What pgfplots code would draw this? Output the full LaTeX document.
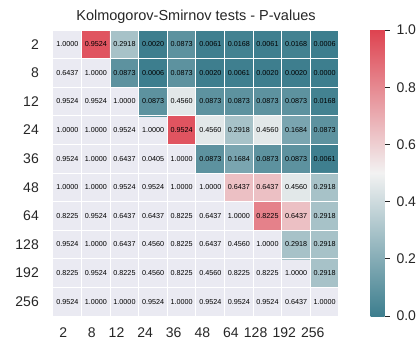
\documentclass[border=0pt]{standalone}
\usepackage{fontspec}
\setmainfont{Liberation Sans}
\usepackage{pgfplots}
\usepackage{pgfplotstable}
\pgfplotsset{compat=1.18}
\pgfplotsset{/pgf/number format/assume math mode=true}

\definecolor{bgcol}{RGB}{234,234,242}
\definecolor{txt}{RGB}{38,38,38}
\pgfplotsset{colormap={kscm}{rgb255=(61,126,142) rgb255=(242,242,242) rgb255=(222,67,80)}}

% x = column, y = row, v = p-value, c = colour value (nan = masked)
\pgfplotstableread{
x y v c
0 0 1.0000 nan
1 0 0.9524 0.9524
2 0 0.2918 0.2918
3 0 0.0020 0.0020
4 0 0.0873 0.0873
5 0 0.0061 0.0061
6 0 0.0168 0.0168
7 0 0.0061 0.0061
8 0 0.0168 0.0168
9 0 0.0006 0.0006
0 1 0.6437 nan
1 1 1.0000 nan
2 1 0.0873 0.0873
3 1 0.0006 0.0006
4 1 0.0873 0.0873
5 1 0.0020 0.0020
6 1 0.0061 0.0061
7 1 0.0020 0.0020
8 1 0.0020 0.0020
9 1 0.0000 0.0000
0 2 0.9524 nan
1 2 0.9524 nan
2 2 1.0000 nan
3 2 0.0873 0.0873
4 2 0.4560 0.4560
5 2 0.0873 0.0873
6 2 0.0873 0.0873
7 2 0.0873 0.0873
8 2 0.0873 0.0873
9 2 0.0168 0.0168
0 3 1.0000 nan
1 3 1.0000 nan
2 3 0.9524 nan
3 3 1.0000 nan
4 3 0.9524 0.9524
5 3 0.4560 0.4560
6 3 0.2918 0.2918
7 3 0.4560 0.4560
8 3 0.1684 0.1684
9 3 0.0873 0.0873
0 4 0.9524 nan
1 4 1.0000 nan
2 4 0.6437 nan
3 4 0.0405 nan
4 4 1.0000 nan
5 4 0.0873 0.0873
6 4 0.1684 0.1684
7 4 0.0873 0.0873
8 4 0.0873 0.0873
9 4 0.0061 0.0061
0 5 1.0000 nan
1 5 1.0000 nan
2 5 0.9524 nan
3 5 0.9524 nan
4 5 1.0000 nan
5 5 1.0000 nan
6 5 0.6437 0.6437
7 5 0.6437 0.6437
8 5 0.4560 0.4560
9 5 0.2918 0.2918
0 6 0.8225 nan
1 6 0.9524 nan
2 6 0.6437 nan
3 6 0.6437 nan
4 6 0.8225 nan
5 6 0.6437 nan
6 6 1.0000 nan
7 6 0.8225 0.8225
8 6 0.6437 0.6437
9 6 0.2918 0.2918
0 7 0.9524 nan
1 7 1.0000 nan
2 7 0.6437 nan
3 7 0.4560 nan
4 7 0.8225 nan
5 7 0.6437 nan
6 7 0.4560 nan
7 7 1.0000 nan
8 7 0.2918 0.2918
9 7 0.2918 0.2918
0 8 0.8225 nan
1 8 0.9524 nan
2 8 0.8225 nan
3 8 0.4560 nan
4 8 0.8225 nan
5 8 0.4560 nan
6 8 0.8225 nan
7 8 0.8225 nan
8 8 1.0000 nan
9 8 0.2918 0.2918
0 9 0.9524 nan
1 9 1.0000 nan
2 9 1.0000 nan
3 9 0.9524 nan
4 9 1.0000 nan
5 9 0.9524 nan
6 9 0.9524 nan
7 9 0.9524 nan
8 9 0.6437 nan
9 9 1.0000 nan
}\hmdata

\begin{document}
\begin{tikzpicture}
\begin{axis}[
    name=hm,
    scale only axis,
    width=286pt, height=286pt,
    xmin=-0.5, xmax=9.5, ymin=-0.5, ymax=9.5,
    y dir=reverse,
    enlargelimits=false,
    axis background/.style={fill=bgcol},
    axis line style={draw=none},
    axis on top,
    xtick={0,...,9}, ytick={0,...,9},
    xticklabels={2,8,12,24,36,48,64,128,192,256},
    yticklabels={2,8,12,24,36,48,64,128,192,256},
    major tick length=0pt, minor tick length=0pt,
    minor xtick={-0.5,0.5,...,9.5},
    minor ytick={-0.5,0.5,...,9.5},
    minor grid style={white, line width=1pt},
    grid=minor,
    tick label style={font=\fontsize{14}{16}\selectfont, text=txt},
    xticklabel style={anchor=north east, inner xsep=0pt, yshift=-8.3pt},
    yticklabel style={anchor=east, inner xsep=0pt, xshift=-14pt},
    title={Kolmogorov-Smirnov tests - P-values},
    title style={font=\fontsize{14.5}{17}\selectfont, text=txt, at={(0.5,1)}, anchor=base, yshift=3.5pt},
    colormap name=kscm,
    point meta min=0, point meta max=1,
    colorbar,
    colorbar style={
        at={(parent axis.north east)}, anchor=north west, xshift=23pt,
        scale only axis, width=14pt, height=286pt,
        axis line style={draw=none},
        ytick={0,0.2,0.4,0.6,0.8,1},
        ytick pos=right, tick align=outside,
        major tick length=5pt,
        tick style={color=txt, line width=0.8pt},
        yticklabel style={font=\fontsize{14}{16}\selectfont, text=txt, xshift=3.5pt,
            /pgf/number format/fixed, /pgf/number format/fixed zerofill,
            /pgf/number format/precision=1},
    },
]
    % coloured (unmasked) cells
    \addplot[matrix plot*, mesh/cols=10, unbounded coords=jump, point meta=explicit]
        table[x=x, y=y, meta=c] {\hmdata};
    % cell annotations
    \addplot[draw=none, mark=none, point meta=explicit,
        nodes near coords={\pgfmathprintnumber[fixed, fixed zerofill, precision=4]{\pgfplotspointmeta}},
        nodes near coords align=center,
        nodes near coords style={font=\fontsize{7.2}{8}\selectfont, text=black, anchor=center, inner sep=0pt}]
        table[x=x, y=y, meta=v] {\hmdata};
\end{axis}
\pgfresetboundingbox
\path ([shift={(-53pt,-39pt)}]hm.south west) rectangle ([shift={(78pt,30pt)}]hm.north east);
\end{tikzpicture}
\end{document}
